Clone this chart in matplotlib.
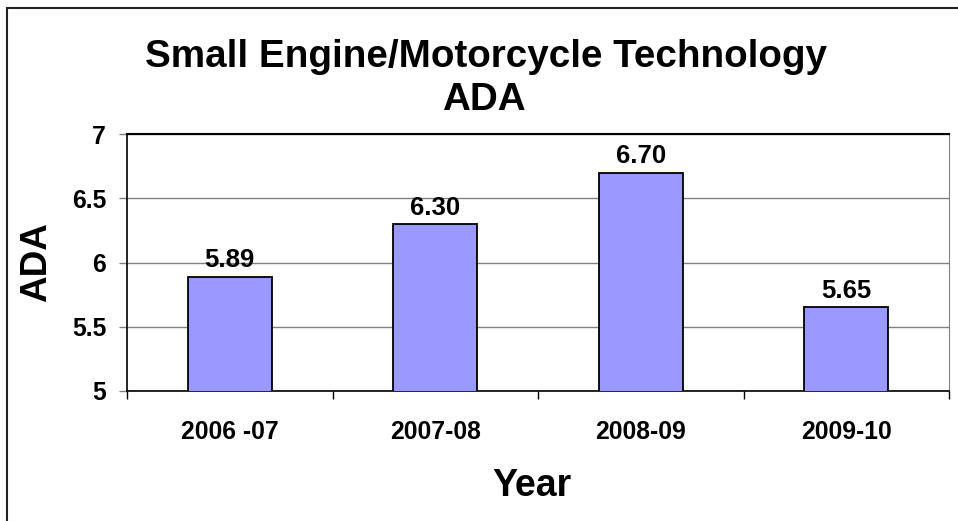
import matplotlib
matplotlib.use('Agg')
import matplotlib.pyplot as plt
from matplotlib.patches import Rectangle

years = ['2006 -07', '2007-08', '2008-09', '2009-10']
ada = [5.89, 6.30, 6.70, 5.65]
y_ticks = [5, 5.5, 6, 6.5, 7]
y_tick_labels = ['5', '5.5', '6', '6.5', '7']

plt.rcParams['font.family'] = ['Liberation Sans', 'DejaVu Sans']
plt.rcParams['font.weight'] = 'bold'

W, H = 958, 521
fig = plt.figure(figsize=(W / 100, H / 100), dpi=100)

# plot area in pixel coordinates
left, right, top, bottom = 127, 949, 134, 391
ax = fig.add_axes([left / W, 1 - bottom / H, (right - left) / W, (bottom - top) / H])

pos = [i + 0.5 for i in range(len(years))]
bars = ax.bar(pos, ada, width=0.41, bottom=0, color='#9999FF',
              edgecolor='black', linewidth=1.3, zorder=3)
ax.set_xlim(0, len(years))
ax.set_ylim(5, 7)

for x, v in zip(pos, ada):
    ax.annotate(f'{v:.2f}', (x, v), xytext=(0, 3), textcoords='offset points',
                ha='center', va='bottom', fontsize=18.5, fontweight='bold', zorder=4)

# gridlines
ax.set_yticks(y_ticks)
ax.set_yticklabels(y_tick_labels)
ax.yaxis.grid(True, color='#808080', linewidth=1.0, zorder=0)
ax.set_axisbelow(True)

# category labels centred, tick marks between categories
ax.set_xticks(pos)
ax.set_xticklabels(years)
ax.set_xticks(range(len(years) + 1), minor=True)
ax.tick_params(axis='x', which='major', length=0, pad=21, labelsize=17.8)
ax.tick_params(axis='x', which='minor', length=6, width=1.0, color='black', direction='out')
ax.tick_params(axis='y', length=6, width=1.0, color='#808080', direction='out',
               pad=9, labelsize=17.8)

ax.spines['left'].set_color('black')
ax.spines['bottom'].set_color('black')
ax.spines['top'].set_color('black')
ax.spines['top'].set_linewidth(1.5)
ax.spines['right'].set_color('#808080')
for s in ['left', 'bottom']:
    ax.spines[s].set_linewidth(1.2)

# titles and axis labels
fig.text(486 / W, 1 - 57 / H, 'Small Engine/Motorcycle Technology', ha='center', va='center',
         fontsize=27.8, fontweight='bold')
fig.text(484 / W, 1 - 100 / H, 'ADA', ha='center', va='center',
         fontsize=27.8, fontweight='bold')
fig.text(37 / W, 1 - 262 / H, 'ADA', ha='center', va='center', rotation=90,
         fontsize=26.6, fontweight='bold')
fig.text(532 / W, 1 - 486 / H, 'Year', ha='center', va='center',
         fontsize=27, fontweight='bold')

# chart frame
fig.patches.append(Rectangle((7 / W, -0.1), 1.2, 1 - 8 / H + 0.1, transform=fig.transFigure,
                             fill=False, edgecolor='#222222', linewidth=1.5))

fig.savefig('out.png', dpi=100, facecolor='white')
